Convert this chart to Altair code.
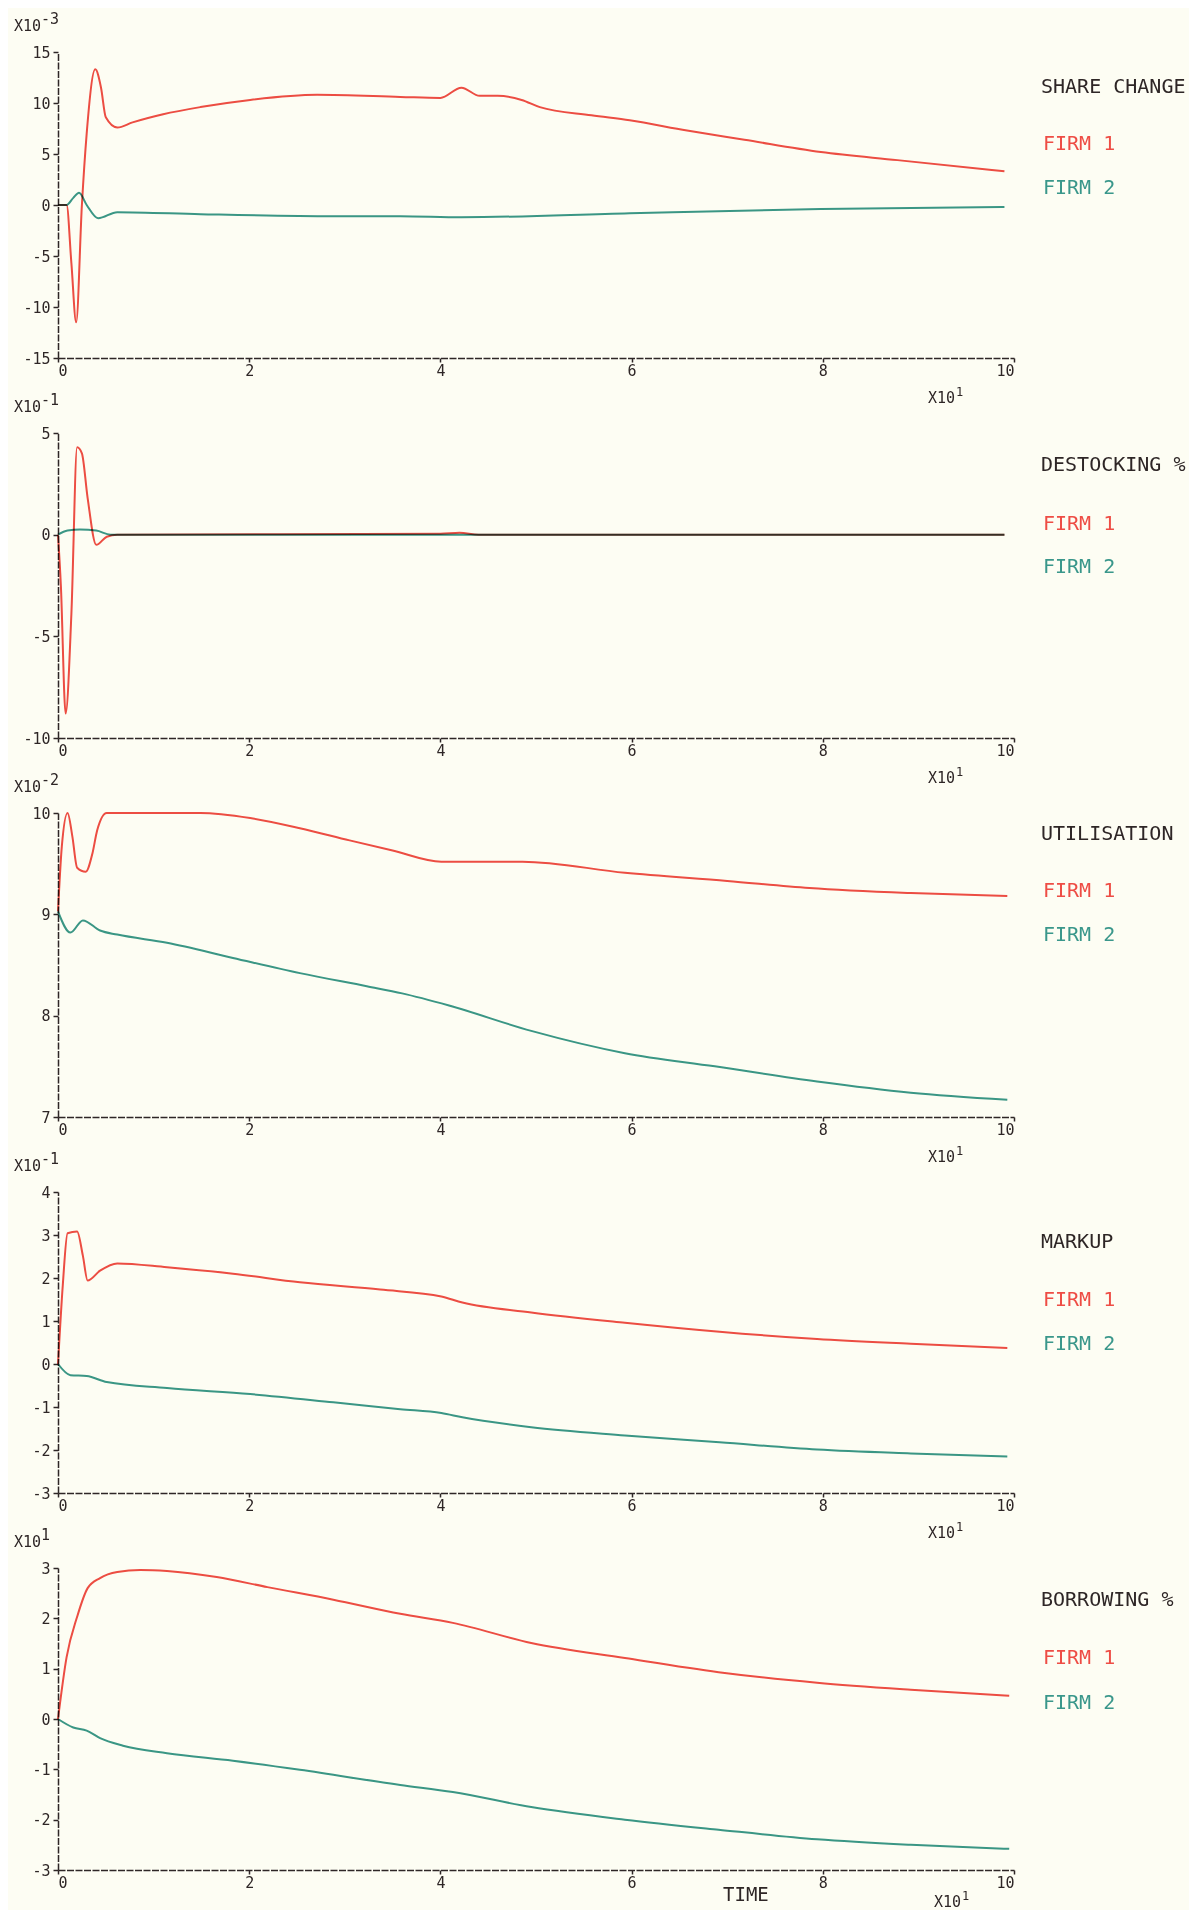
import altair as alt
import pandas as pd

# ---------------- data (time in periods, values in the axis units shown) ----------------
SHARE_T1 = [0, 0.9, 1.4, 1.9, 2.5, 3.0, 3.9, 4.5, 5.0, 6.2, 7.8, 11, 14.9, 20.1, 27.1, 35.8, 40.0, 42.2, 44.1, 46.0, 48.5, 50.4, 55.8, 59.8, 65.8, 71.8, 79.8, 87.8, 99]
SHARE_V1 = [0, 0, -5.7, -11.5, 0, 7.0, 13.3, 11.5, 8.6, 7.6, 8.1, 8.9, 9.6, 10.3, 10.8, 10.6, 10.5, 11.5, 10.7, 10.7, 10.3, 9.6, 8.8, 8.3, 7.3, 6.4, 5.2, 4.4, 3.3]
SHARE_T2 = [0, 0.9, 1.6, 2.2, 3.0, 4.2, 6.2, 14.9, 28.8, 35.8, 42.2, 59.8, 79.8, 99]
SHARE_V2 = [0, 0, 0.7, 1.2, 0, -1.3, -0.7, -0.9, -1.1, -1.1, -1.2, -0.8, -0.4, -0.2]

DESTOCK_T1 = [0, 0.3, 0.8, 1.4, 2.0, 2.5, 3.1, 4.0, 5.1, 6.2, 40, 42, 44, 99]
DESTOCK_V1 = [0, -2.5, -8.8, -3.9, 4.3, 4.0, 1.8, -0.5, -0.1, 0, 0.05, 0.1, 0, 0]
DESTOCK_T2 = [0, 1.0, 2.3, 4.0, 5.5, 99]
DESTOCK_V2 = [0, 0.2, 0.25, 0.2, 0, 0]

UTIL_T1 = [0, 0.4, 1.0, 1.5, 2.0, 2.9, 3.6, 4.1, 5.1, 7.8, 14.9, 20.1, 25.3, 30.5, 35.0, 40.1, 48.6, 59.3, 70.0, 78.6, 89.2, 99.3]
UTIL_V1 = [9.03, 9.67, 10.0, 9.77, 9.46, 9.42, 9.6, 9.83, 10.0, 10.0, 10.0, 9.95, 9.85, 9.73, 9.63, 9.52, 9.52, 9.41, 9.33, 9.26, 9.21, 9.18]
UTIL_T2 = [0, 1.3, 2.6, 4.4, 6.2, 11.4, 18.3, 25.3, 32.3, 36, 40.9, 49.5, 59.3, 68.7, 79.4, 89.2, 99.3]
UTIL_V2 = [9.03, 8.82, 8.94, 8.84, 8.80, 8.72, 8.57, 8.42, 8.29, 8.22, 8.10, 7.85, 7.63, 7.50, 7.35, 7.24, 7.17]

MARKUP_T1 = [0, 0.5, 1.0, 2.0, 2.6, 3.1, 4.4, 6.2, 11.4, 18.3, 25.3, 33.7, 40.1, 42.3, 49.5, 59.3, 69.2, 79.4, 89.2, 99.3]
MARKUP_V1 = [0, 1.83, 3.04, 3.08, 2.52, 1.94, 2.17, 2.34, 2.25, 2.1, 1.9, 1.73, 1.57, 1.43, 1.2, 0.96, 0.75, 0.58, 0.47, 0.37]
MARKUP_T2 = [0, 1.3, 3.0, 5.1, 11.4, 20.1, 28.8, 35.8, 40.1, 42.3, 49.5, 59.3, 69.2, 79.4, 89.2, 99.3]
MARKUP_V2 = [0, -0.26, -0.28, -0.42, -0.56, -0.7, -0.89, -1.05, -1.14, -1.24, -1.47, -1.66, -1.82, -1.99, -2.08, -2.15]

BORROW_T1 = [0, 0.9, 2.0, 3.1, 4.4, 6.2, 8.6, 11.4, 16.6, 21.9, 28.8, 35.8, 41.3, 49.5, 59.3, 69.1, 79.4, 89.2, 99.5]
BORROW_V1 = [0, 1.23, 2.03, 2.6, 2.8, 2.92, 2.96, 2.94, 2.82, 2.62, 2.37, 2.09, 1.91, 1.51, 1.21, 0.93, 0.72, 0.58, 0.46]
BORROW_T2 = [0, 1.6, 3.0, 4.4, 6.8, 11.4, 18.3, 25.3, 35.8, 41.3, 49.5, 59.3, 69.1, 79.4, 89.2, 99.5]
BORROW_V2 = [0, -0.17, -0.23, -0.38, -0.53, -0.68, -0.83, -1.01, -1.31, -1.45, -1.75, -2.0, -2.2, -2.39, -2.5, -2.58]

PANEL_TITLES = ["SHARE CHANGE", "DESTOCKING %", "UTILISATION", "MARKUP", "BORROWING %"]
SERIES_NAMES = ["FIRM 1", "FIRM 2"]
Y_EXPONENTS = ["-3", "-1", "-2", "-1", "1"]
Y_DOMAINS = [[-15, 15], [-10, 5], [7, 10], [-3, 4], [-3, 3]]
Y_TICKS = [[-15, -10, -5, 0, 5, 10, 15], [-10, -5, 0, 5], [7, 8, 9, 10],
           [-3, -2, -1, 0, 1, 2, 3, 4], [-3, -2, -1, 0, 1, 2, 3]]
X_TICKS = [0, 20, 40, 60, 80, 100]
X_EXPONENT = "1"
X_TITLE = "TIME"

SERIES = [
    (SHARE_T1, SHARE_V1, SHARE_T2, SHARE_V2),
    (DESTOCK_T1, DESTOCK_V1, DESTOCK_T2, DESTOCK_V2),
    (UTIL_T1, UTIL_V1, UTIL_T2, UTIL_V2),
    (MARKUP_T1, MARKUP_V1, MARKUP_T2, MARKUP_V2),
    (BORROW_T1, BORROW_V1, BORROW_T2, BORROW_V2),
]

# ---------------- styling / layout ----------------
RED = "#ee4d45"
TEAL = "#3a978b"
INK = "#2e2626"
BG = "#fdfdf3"
FONT = "DejaVu Sans Mono"
PLOT_W = 956
HEIGHTS = [306, 305, 304, 301, 302]
LABEL_Y = [(35, 92, 136), (32, 91, 134), (21, 78, 122), (50, 108, 152), (32, 90, 135)]


def text_layer(label, x, y, color=INK, size=15, align="left"):
    return alt.Chart(pd.DataFrame({"label": [label]})).mark_text(
        font=FONT, fontSize=size, color=color, align=align, baseline="middle"
    ).encode(text="label:N", x=alt.value(x), y=alt.value(y))


def panel(i):
    t1, v1, t2, v2 = SERIES[i]
    h = HEIGHTS[i]
    df = pd.DataFrame({
        "t": list(t1) + list(t2),
        "v": list(v1) + list(v2),
        "firm": [SERIES_NAMES[0]] * len(t1) + [SERIES_NAMES[1]] * len(t2),
    })
    lines = alt.Chart(df).mark_line(
        interpolate="monotone", strokeWidth=2, blend="multiply"
    ).encode(
        x=alt.X("t:Q", scale=alt.Scale(domain=[0, 100], nice=False, zero=False),
                axis=alt.Axis(values=X_TICKS, labelExpr="'' + (datum.value / 10)",
                              title=None, grid=False, labelPadding=1, tickSize=4,
                              labelFontSize=15)),
        y=alt.Y("v:Q", scale=alt.Scale(domain=Y_DOMAINS[i], nice=False, zero=False),
                axis=alt.Axis(values=Y_TICKS[i], labelExpr="'' + datum.value",
                              title=None, grid=False, labelPadding=3, tickSize=5,
                              labelFontSize=15)),
        color=alt.Color("firm:N", scale=alt.Scale(domain=SERIES_NAMES, range=[RED, TEAL]),
                        legend=None),
        detail="firm:N",
    )
    ly = LABEL_Y[i]
    layers = [
        lines,
        text_layer("X10", -44, -26),
        text_layer(Y_EXPONENTS[i], -17, -33),
        text_layer(PANEL_TITLES[i], 983, ly[0], INK, 20),
        text_layer(SERIES_NAMES[0], 985, ly[1], RED, 20),
        text_layer(SERIES_NAMES[1], 985, ly[2], TEAL, 20),
    ]
    if i < 4:
        layers += [
            text_layer("X10", 870, h + 40),
            text_layer(X_EXPONENT, 898, h + 34, INK, 12),
        ]
    else:
        layers += [
            text_layer(X_TITLE, 665, h + 25, INK, 19),
            text_layer("X10", 876, h + 32),
            text_layer(X_EXPONENT, 904, h + 26, INK, 12),
        ]
    return alt.layer(*layers).properties(width=PLOT_W, height=h)


chart = alt.vconcat(*[panel(i) for i in range(5)], spacing=75, bounds="flush").properties(
    background=BG,
    padding={"left": 6, "top": 4, "right": 3, "bottom": 0},
).configure_view(stroke=None).configure_axis(
    labelFont=FONT,
    labelColor=INK,
    tickColor=INK,
    domainColor=INK,
    domainWidth=1.5,
    domainDash=[7, 1.5],
    tickWidth=1.5,
)

chart.save("out.html", embed_options={"renderer": "svg", "actions": False})
